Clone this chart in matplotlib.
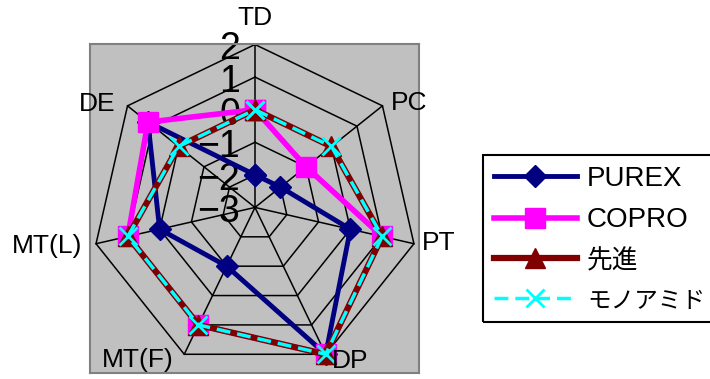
import numpy as np
import matplotlib
matplotlib.use('Agg')
import matplotlib.pyplot as plt
from matplotlib.patches import Rectangle

plt.rcParams['font.family'] = ['Liberation Sans', 'Noto Sans CJK JP']

# Radar data: one value per category, scale runs from -3 (centre) to 2 (rim)
categories = ['TD', 'PC', 'PT', 'DP', 'MT(F)', 'MT(L)', 'DE']
purex = [-2, -2, 0, 2, -1, 0, 1.2]
copro = [0, -1, 1, 2, 1, 1, 1.2]
senshin = [0, 0, 1, 2, 1, 1, 0]
monoamide = [0, 0, 1, 2, 1, 1, 0]
scale_ticks = [2, 1, 0, -1, -2, -3]

vmin, vmax = -3, 2
n = len(categories)
theta = 2 * np.pi * np.arange(n) / n


def to_xy(values):
    r = np.asarray(values, dtype=float) - vmin
    r = np.append(r, r[0])
    t = np.append(theta, theta[0])
    return r * np.sin(t), r * np.cos(t)


fig = plt.figure(figsize=(7.1, 3.79), dpi=100)
ax = fig.add_axes([90 / 710, 6.3 / 379, 329 / 710, 328.7 / 379])
ax.set_xlim(-5.06, 5.03)
ax.set_ylim(-5.07, 5.015)
ax.set_facecolor('#c0c0c0')
for s in ax.spines.values():
    s.set_color('#808080')
    s.set_linewidth(1.5)
ax.set_xticks([])
ax.set_yticks([])

# heptagon grid and spokes
R = vmax - vmin
for v in range(vmin + 1, vmax + 1):
    gx, gy = to_xy([v] * n)
    ax.plot(gx, gy, color='black', lw=1.1, zorder=1)
for t in theta:
    ax.plot([0, R * np.sin(t)], [0, R * np.cos(t)], color='black', lw=1.1, zorder=1)

# scale labels along the TD spoke
for v in scale_ticks:
    lab = str(v).replace('-', '\u2212')
    ax.text(-0.45, v - vmin - 0.15, lab, ha='right', va='center',
            fontsize=27, zorder=2, clip_on=False)

# category labels outside the rim
offsets = {
    'TD': (0, 26, 'center'),
    'PC': (8, 3, 'left'),
    'PT': (8, 1, 'left'),
    'DP': (6, -7, 'left'),
    'MT(F)': (-11, -6, 'right'),
    'MT(L)': (-14, -2, 'right'),
    'DE': (-12, 2, 'right'),
}
for name, t in zip(categories, theta):
    dx, dy, ha = offsets[name]
    ax.annotate(name, (R * np.sin(t), R * np.cos(t)),
                xytext=(dx * 0.72, dy * 0.72), textcoords='offset points',
                ha=ha, va='center', fontsize=19, annotation_clip=False, zorder=6)

x, y = to_xy(purex)
h1, = ax.plot(x, y, color='#000080', lw=3.5, marker='D', ms=11,
              label='PUREX', zorder=3)
x, y = to_xy(copro)
h2, = ax.plot(x, y, color='#ff00ff', lw=4, marker='s', ms=15,
              label='COPRO', zorder=4)
x, y = to_xy(senshin)
h3, = ax.plot(x, y, color='#800000', lw=4.5, marker='^', ms=15,
              label='先進', zorder=5)
x, y = to_xy(monoamide)
h4, = ax.plot(x, y, color='#00ffff', lw=2.5, dashes=(4, 2), marker='x',
              ms=13, mew=2, label='モノアミド', zorder=5.5)

leg = fig.legend(handles=[h1, h2, h3, h4], loc='upper left',
                 bbox_to_anchor=(482.7 / 710, 1 - 155 / 379),
                 borderaxespad=0, fontsize=20, handlelength=3.0,
                 handletextpad=0.35, labelspacing=0.55, borderpad=0.4,
                 frameon=False)
texts = leg.get_texts()
texts[2].set_fontsize(18.5)
texts[3].set_fontsize(17)

# legend box runs past the right edge of the figure
fig.patches.append(Rectangle((482.7 / 710, 1 - 322 / 379), 260 / 710, 167 / 379,
                             transform=fig.transFigure, fill=False,
                             ec='black', lw=1.5))

fig.savefig('out.png', dpi=100)
